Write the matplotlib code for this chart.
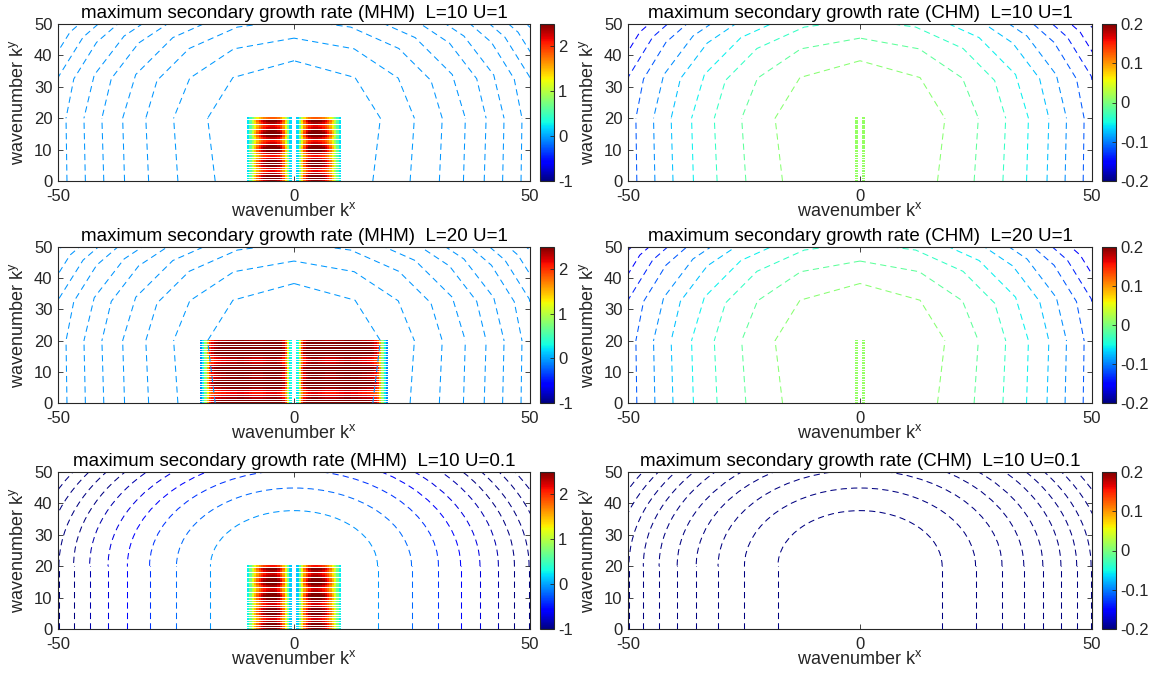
import numpy as np
import matplotlib
matplotlib.use('Agg')
from matplotlib import pyplot as plt
from matplotlib.patches import Arc, RegularPolygon, Rectangle
from matplotlib.colors import Normalize
from matplotlib.cm import ScalarMappable

plt.rcParams['font.family'] = ['Liberation Sans', 'DejaVu Sans']
plt.rcParams['mathtext.fontset'] = 'custom'
plt.rcParams['mathtext.rm'] = 'Liberation Sans'
plt.rcParams['mathtext.it'] = 'Liberation Sans'
plt.rcParams['mathtext.default'] = 'regular'
plt.rcParams['axes.unicode_minus'] = False
plt.rcParams['lines.scale_dashes'] = False

# grid of the secondary growth rate cells
ky_rows = [0, 0.8, 1.6, 2.4, 3.2, 4.0, 4.8, 5.6, 6.4, 7.2, 8.0, 8.8, 9.6,
           10.4, 11.2, 12.0, 12.8, 13.6, 14.4, 15.2, 16.0, 16.8, 17.6, 18.4, 19.2, 20.0]
kx_l10 = [0.75, 1.25, 1.75, 2.25, 2.75, 3.25, 3.75, 4.25, 4.75, 5.25,
          5.75, 6.25, 6.75, 7.25, 7.75, 8.25, 8.75, 9.25, 9.75]
kx_l20 = [0.75, 1.25, 1.75, 2.25, 2.75, 3.25, 3.75, 4.25, 4.75, 5.25,
          5.75, 6.25, 6.75, 7.25, 7.75, 8.25, 8.75, 9.25, 9.75, 10.25,
          10.75, 11.25, 11.75, 12.25, 12.75, 13.25, 13.75, 14.25, 14.75, 15.25,
          15.75, 16.25, 16.75, 17.25, 17.75, 18.25, 18.75, 19.25, 19.75]
kx_chm = [0.75]

# growth rate across kx (mirrored for kx<0) and its modulation along ky
cols_mhm_l10_u1 = [0.2, 0.85, 1.45, 1.95, 2.3, 2.5, 2.6, 2.65, 2.65, 2.6,
                   2.55, 2.45, 2.3, 2.1, 1.85, 1.5, 1.1, 0.65, 0.25]
rows_mhm_l10_u1 = [0.92, 1.0, 0.98, 0.9, 0.82, 0.86, 0.95, 1.0, 0.96, 0.86, 0.8, 0.88, 0.97,
                   1.0, 0.95, 0.85, 0.8, 0.88, 0.97, 1.0, 0.95, 0.86, 0.82, 0.9, 0.96, 0.7]
cols_mhm_l20_u1 = [0.3, 1.2, 2.0, 2.4, 2.6, 2.7, 2.75, 2.75, 2.75, 2.7,
                   2.7, 2.65, 2.6, 2.6, 2.6, 2.6, 2.6, 2.65, 2.7, 2.7,
                   2.75, 2.75, 2.75, 2.7, 2.7, 2.7, 2.65, 2.65, 2.6, 2.6,
                   2.55, 2.5, 2.45, 2.3, 2.1, 1.6, 0.9, 0.3, -0.1]
rows_mhm_l20_u1 = [1.0, 0.96, 0.9, 0.84, 0.8, 0.84, 0.92, 1.0, 1.0, 0.97, 0.92, 0.9, 0.94,
                   1.0, 1.0, 0.95, 0.88, 0.84, 0.88, 0.95, 1.0, 1.0, 0.97, 0.95, 0.97, 0.9]
cols_mhm_l10_u01 = [0.15, 0.75, 1.35, 1.85, 2.2, 2.45, 2.6, 2.65, 2.65, 2.6,
                    2.55, 2.45, 2.3, 2.1, 1.85, 1.55, 1.2, 0.75, 0.3]
rows_mhm_l10_u01 = [0.95, 1.0, 0.97, 0.9, 0.85, 0.9, 0.97, 1.0, 0.96, 0.88, 0.85, 0.9, 0.97,
                    1.0, 0.96, 0.88, 0.85, 0.9, 0.97, 1.0, 0.96, 0.9, 0.86, 0.9, 0.96, 0.8]
cols_chm = [1.0]
rows_chm_l10_u1 = [0.010, 0.014, 0.011, 0.013, 0.010, 0.014, 0.012, 0.011, 0.014, 0.010, 0.013, 0.012, 0.014,
                   0.010, 0.013, 0.011, 0.014, 0.012, 0.010, 0.013, 0.011, 0.014, 0.012, 0.010, 0.013, 0.011]
rows_chm_l20_u1 = [0.011, 0.013, 0.010, 0.014, 0.012, 0.010, 0.013, 0.011, 0.014, 0.012, 0.010, 0.013, 0.011,
                   0.014, 0.012, 0.010, 0.013, 0.011, 0.014, 0.012, 0.010, 0.013, 0.011, 0.014, 0.012, 0.010]

# damping-rate contours: half width at ky=20, foot at ky=0, contour level
r_u1 = [18.3, 25.5, 31.4, 36.3, 40.7, 44.5, 48.3, 51.6, 54.8, 57.8, 60.7]
foot_u1 = [16.7, 24.6, 30.8, 35.9, 40.3, 44.2, 48.1, 51.5, 54.7, 57.7, 60.6]
r_u01 = [17.7, 24.9, 30.6, 35.3, 39.4, 43.3, 46.7, 49.8, 52.8, 55.6, 58.3]
levels_mhm_u1 = [-0.040, -0.042, -0.044, -0.046, -0.048, -0.050, -0.052, -0.054, -0.056, -0.058, -0.060]
levels_chm_u1 = [0.005, -0.015, -0.035, -0.055, -0.075, -0.095, -0.115, -0.135, -0.155, -0.175, -0.195]
levels_mhm_u01 = [-0.05, -0.2, -0.38, -0.55, -0.7, -0.85, -1.0, -1.15, -1.3, -1.45, -1.6]
levels_chm_u01 = [-0.3, -0.6, -0.9, -1.2, -1.5, -1.8, -2.1, -2.4, -2.7, -3.0, -3.3]

clim_mhm = [-1, 2.5]
clim_chm = [-0.2, 0.2]
ticks_mhm = [-1, 0, 1, 2]
ticklabels_mhm = ['-1', '0', '1', '2']
ticks_chm = [-0.2, -0.1, 0, 0.1, 0.2]
ticklabels_chm = ['-0.2', '-0.1', '0', '0.1', '0.2']

titles = ['maximum secondary growth rate (MHM)  L=10 U=1',
          'maximum secondary growth rate (CHM)  L=10 U=1',
          'maximum secondary growth rate (MHM)  L=20 U=1',
          'maximum secondary growth rate (CHM)  L=20 U=1',
          'maximum secondary growth rate (MHM)  L=10 U=0.1',
          'maximum secondary growth rate (CHM)  L=10 U=0.1']

cmap = plt.get_cmap('jet')
dash = (0, (4.5, 3.0))
lw = 0.75
txt = '#262626'
# coarse U=1 contours come out as polygons (corners per contour)
corners_u1 = [8, 12, 16, 16, 20, 20, 24, 24, 24, 24, 24]


def draw_cells(ax, kx, cols, rows, norm, hw):
    kx = np.array(kx)
    ky = np.array(ky_rows)
    vals = np.outer(rows, cols)
    grid = np.full((2 * len(ky) - 1, len(kx)), np.nan)
    grid[::2] = vals
    y_edges = np.column_stack([ky - 0.28, ky + 0.27]).ravel()
    x_edges = np.append(kx - hw, kx[-1] + hw)
    ax.pcolormesh(x_edges, y_edges, np.ma.masked_invalid(grid), cmap=cmap, norm=norm,
                  shading='flat', antialiased=False, zorder=2)
    ax.pcolormesh(-x_edges[::-1], y_edges, np.ma.masked_invalid(grid[:, ::-1]), cmap=cmap,
                  norm=norm, shading='flat', antialiased=False, zorder=2)


def draw_contours(ax, radii, feet, levels, norm, corners=None):
    for j, (r, xb, lev) in enumerate(zip(radii, feet, levels)):
        c = cmap(norm(lev))
        for s in (-1, 1):
            ax.plot([s * xb, s * r], [0, 20], color=c, lw=lw, linestyle=dash, zorder=3)
        if corners is None:
            ax.add_patch(Arc((0, 20), 2 * r, 2 * r, theta1=0, theta2=180, color=c,
                             lw=lw, linestyle=dash, zorder=3))
        else:
            poly = RegularPolygon((0, 20), corners[j], radius=r, fill=False, edgecolor=c,
                                  lw=lw, linestyle=dash, zorder=3)
            ax.add_patch(poly)
            poly.set_clip_path(Rectangle((-50, 20), 100, 30, transform=ax.transData))


fig = plt.figure(figsize=(11.52, 6.76), dpi=100)
W, H = 1152.0, 676.0
row_px = [(24, 181), (247, 403), (472, 629)]
col_px = [(58, 530, 540), (628, 1092, 1102)]

panels = [
    (0, 0, 'mhm', kx_l10, cols_mhm_l10_u1, rows_mhm_l10_u1, r_u1, foot_u1, levels_mhm_u1, corners_u1),
    (0, 1, 'chm', kx_chm, cols_chm, rows_chm_l10_u1, r_u1, foot_u1, levels_chm_u1, corners_u1),
    (1, 0, 'mhm', kx_l20, cols_mhm_l20_u1, rows_mhm_l20_u1, r_u1, foot_u1, levels_mhm_u1, corners_u1),
    (1, 1, 'chm', kx_chm, cols_chm, rows_chm_l20_u1, r_u1, foot_u1, levels_chm_u1, corners_u1),
    (2, 0, 'mhm', kx_l10, cols_mhm_l10_u01, rows_mhm_l10_u01, r_u01, r_u01, levels_mhm_u01, None),
    (2, 1, 'chm', None, None, None, r_u01, r_u01, levels_chm_u01, None),
]

for i, (ri, ci, kind, kx, cols, rows, radii, feet, levels, corners) in enumerate(panels):
    top, bot = row_px[ri]
    x0, x1, cb0 = col_px[ci]
    ax = fig.add_axes([x0 / W, 1 - bot / H, (x1 - x0) / W, (bot - top) / H])
    clim = clim_mhm if kind == 'mhm' else clim_chm
    norm = Normalize(vmin=clim[0], vmax=clim[1])
    ax.set_xlim(-50, 50)
    ax.set_ylim(0, 50)
    if kx is not None:
        draw_cells(ax, kx, cols, rows, norm, 0.25 if kind == 'mhm' else 0.35)
    draw_contours(ax, radii, feet, levels, norm, corners)
    ax.set_xticks([-50, 0, 50])
    ax.set_yticks([0, 10, 20, 30, 40, 50])
    ax.tick_params(direction='in', top=True, right=True, length=3.5, width=0.6,
                   labelsize=12, colors=txt, pad=4)
    ax.tick_params(axis='x', pad=5.5)
    for sp in ax.spines.values():
        sp.set_linewidth(0.8)
        sp.set_color(txt)
        sp.set_zorder(5)
    ax.set_title(titles[i], fontsize=13.5, pad=4, color='black')
    ax.set_xlabel('wavenumber k$^x$', fontsize=13, color=txt, labelpad=-1)
    ax.set_ylabel('wavenumber k$^y$', fontsize=13, color=txt, labelpad=5)

    cax = fig.add_axes([cb0 / W, 1 - bot / H, 14 / W, (bot - top) / H])
    cb = fig.colorbar(ScalarMappable(norm=norm, cmap=cmap), cax=cax)
    if kind == 'mhm':
        cb.set_ticks(ticks_mhm)
        cb.set_ticklabels(ticklabels_mhm)
    else:
        cb.set_ticks(ticks_chm)
        cb.set_ticklabels(ticklabels_chm)
    cb.ax.tick_params(direction='in', length=3, width=0.6, labelsize=12, colors=txt, pad=3)
    cb.outline.set_linewidth(0.8)
    cb.outline.set_edgecolor(txt)

fig.savefig('out.png', dpi=100)
